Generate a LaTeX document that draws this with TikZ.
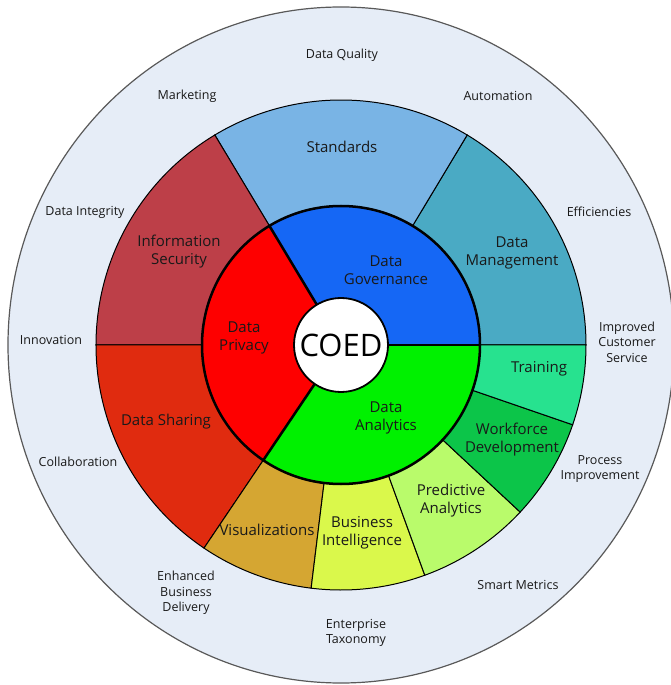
\documentclass[tikz,border=0pt]{standalone}
\usepackage{fontspec}
\setmainfont{Open Sans}

\definecolor{outerbg}{RGB}{230,237,247}
\definecolor{standards}{RGB}{121,180,229}
\definecolor{datamgmt}{RGB}{74,170,196}
\definecolor{infosec}{RGB}{189,63,72}
\definecolor{sharing}{RGB}{224,43,15}
\definecolor{visual}{RGB}{213,166,50}
\definecolor{business}{RGB}{218,248,75}
\definecolor{predictive}{RGB}{185,251,107}
\definecolor{workforce}{RGB}{12,197,73}
\definecolor{training}{RGB}{39,226,143}
\definecolor{governance}{RGB}{21,103,245}
\definecolor{privacy}{RGB}{254,0,0}
\definecolor{analytics}{RGB}{0,241,0}
\definecolor{inkdark}{RGB}{25,25,25}

\tikzset{
	outlabel/.style={align=center, text=inkdark, font=\fontsize{12.5}{15.5}\selectfont},
	seglabel/.style={align=center, text=inkdark, font=\fontsize{15}{18}\selectfont},
	thinedge/.style={draw=black, line width=1pt},
	thickedge/.style={draw=black, line width=2.5pt}
}

% annular piece: colour, start angle, end angle, inner radius, outer radius
\newcommand{\ringpart}[5]{%
	\filldraw[fill=#1, thinedge] (#2:#4) -- (#2:#5) arc (#2:#3:#5) -- (#3:#4) arc (#3:#2:#4) -- cycle;}
% pie piece: colour, start angle, end angle, radius
\newcommand{\piepart}[4]{%
	\fill[#1] (0,0) -- (#2:#4) arc (#2:#3:#4) -- cycle;}

\begin{document}
\begin{tikzpicture}[x=1pt, y=1pt]
	\useasboundingbox (-341,-340) rectangle (330,345);
	\filldraw[fill=outerbg, draw=black!65, line width=1.2pt] (0,0) ellipse [x radius=333pt, y radius=338pt];

	\ringpart{datamgmt}{0}{59}{139pt}{245pt}
	\ringpart{standards}{59}{121}{139pt}{245pt}
	\ringpart{infosec}{121}{180}{139pt}{245pt}
	\ringpart{sharing}{180}{236}{139pt}{245pt}
	\ringpart{visual}{236}{263}{139pt}{245pt}
	\ringpart{business}{263}{290}{139pt}{245pt}
	\ringpart{predictive}{290}{317}{139pt}{245pt}
	\ringpart{workforce}{317}{341}{139pt}{245pt}
	\ringpart{training}{341}{360}{139pt}{245pt}

	\piepart{governance}{0}{121}{139pt}
	\piepart{privacy}{121}{236}{139pt}
	\piepart{analytics}{236}{360}{139pt}
	\draw[thickedge] (0:0) -- (0:139pt);
	\draw[thickedge] (0:0) -- (121:139pt);
	\draw[thickedge] (0:0) -- (236:139pt);
	\draw[thickedge] (0,0) circle [radius=139pt];

	\node (coed) [circle, draw=black, line width=1.8pt, fill=white, minimum size=94pt, inner sep=0pt,
		font=\fontsize{31}{31}\selectfont] at (0,0) {COED};

	\node (gov) [seglabel] at (45,75) {Data\\Governance};
	\node (priv) [seglabel] at (-97,7) {Data\\Privacy};
	\node (anal) [seglabel] at (45,-73) {Data\\Analytics};

	\node (stand) [seglabel] at (1,198) {Standards};
	\node (mgmt) [seglabel] at (171,92) {Data\\Management};
	\node (sec) [seglabel] at (-162,93) {Information\\Security};
	\node (share) [seglabel] at (-175,-77) {Data Sharing};
	\node (vis) [seglabel] at (-74,-185) {Visualizations};
	\node (bi) [seglabel] at (21,-188) {Business\\Intelligence};
	\node (pred) [seglabel] at (110,-156) {Predictive\\Analytics};
	\node (work) [seglabel] at (171,-95) {Workforce\\Development};
	\node (train) [seglabel] at (198,-24) {Training};

	\node (quality) [outlabel] at (1,290) {Data Quality};
	\node (market) [outlabel] at (-154,249) {Marketing};
	\node (auto) [outlabel] at (157,249) {Automation};
	\node (integ) [outlabel] at (-256,133) {Data Integrity};
	\node (effic) [outlabel] at (258,133) {Efficiencies};
	\node (innov) [outlabel] at (-290,5) {Innovation};
	\node (custom) [outlabel] at (286,3) {Improved\\Customer\\Service};
	\node (collab) [outlabel] at (-263,-117) {Collaboration};
	\node (process) [outlabel] at (259,-124) {Process\\Improvement};
	\node (deliv) [outlabel] at (-155,-248) {Enhanced\\Business\\Delivery};
	\node (smart) [outlabel] at (177,-240) {Smart Metrics};
	\node (taxo) [outlabel] at (15,-288) {Enterprise\\Taxonomy};
\end{tikzpicture}
\end{document}
